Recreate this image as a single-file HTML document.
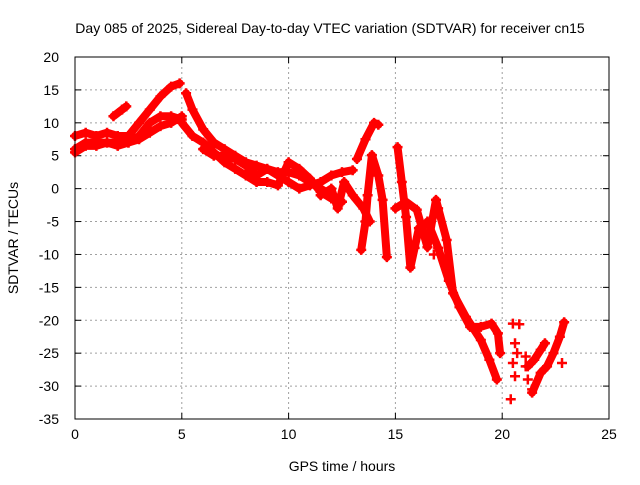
<!DOCTYPE html>
<html><head><meta charset="utf-8">
<style>
body{margin:0;background:#fff;}
svg text{font-family:"Liberation Sans",sans-serif;font-size:14px;fill:#000;}
</style></head>
<body>
<svg id="chart" width="640" height="480" xmlns="http://www.w3.org/2000/svg">
<rect width="640" height="480" fill="#fff"/>
<text x="330" y="33" text-anchor="middle">Day 085 of 2025, Sidereal Day-to-day VTEC variation (SDTVAR) for receiver cn15</text>
<text x="342" y="471" text-anchor="middle">GPS time / hours</text>
<text transform="translate(18,238) rotate(-90)" text-anchor="middle">SDTVAR / TECUs</text>
<g id="grid"></g><g id="ticks"></g><g id="marks"></g>
<rect x="75" y="57" width="534" height="362" fill="none" stroke="#000" stroke-width="1"/>
</svg>
<script>
const xTicks=[0,5,10,15,20,25];
const yTicks=[20,15,10,5,0,-5,-10,-15,-20,-25,-30,-35];
const trackA=[[0,8],[0.5,8.5],[1,8],[1.5,8.5],[2,8],[2.5,8],[3,10],[3.5,12],[4,14],[4.5,15.5],[4.9,16]];
const trackB=[[0,6],[0.5,7],[1,7],[1.5,7],[2,7],[2.5,7],[3,8],[3.5,10],[4,11],[4.5,11],[5,10.5]];
const trackC=[[0,5.5],[0.5,6.5],[1,6.5],[1.5,7],[2,6.5],[2.5,7],[3,7.5],[3.5,8.5],[4,9.5],[4.5,10],[5,11]];
const trackS=[[1.8,11],[2.2,12],[2.4,12.5]];
const trackD=[[5.2,14.5],[5.5,12],[6,9],[6.5,7],[7,6],[7.5,5],[8,4],[8.5,3.5],[9,3],[9.5,2.5],[10,2.5],[10.5,2],[11,1],[11.5,0],[12,-1],[12.5,-2]];
const trackE=[[5,10],[5.5,8],[6,7],[6.5,5.5],[7,4],[7.5,3],[8,2],[8.5,1],[9,1],[9.5,0.5],[10,4],[10.5,3],[11,1.5],[11.5,-0.5],[12,-1.5]];
const trackF=[[6,6],[6.5,5],[7,5],[7.5,4.5],[8,3.5],[8.5,2],[9,3],[9.5,2],[10,1],[10.5,0],[11,0.5],[11.5,1],[12,2],[12.5,2.5],[13,2.8]];
const trackG=[[11.5,-1],[12,0],[12.3,-3],[12.6,1],[13,-1],[13.5,-3],[13.8,-5]];
const trackH=[[13.2,4.5],[13.6,7.5],[14,10],[14.2,9.7]];
const trackI=[[13.4,-9.3],[13.6,-5],[13.7,-1],[13.9,5.1],[14.2,2],[14.4,-1.7],[14.6,-10.4]];
const trackJ=[[15.1,6.3],[15.3,1],[15.5,-4.3],[15.7,-12],[15.9,-9],[16.1,-6]];
const trackK=[[15,-3],[15.5,-2],[16,-3.2],[16.5,-8.9],[16.9,-1.7],[17.4,-7.8],[17.7,-15.9],[18.3,-19.5],[19,-23],[19.4,-26],[19.75,-29]];
const trackL=[[16.5,-5],[17,-9],[17.5,-14],[18,-18],[18.5,-21],[19,-21],[19.5,-20.5],[19.8,-22],[19.9,-25]];
const trackM=[[21.4,-31],[21.8,-28],[22.1,-27],[22.4,-25],[22.7,-22.5],[22.9,-20.3]];
const trackN=[[21.2,-27],[21.5,-26],[21.8,-24.5],[22,-23.5]];
const scatter=[[20.5,-20.5],[20.8,-20.6],[20.6,-23.5],[20.7,-25],[20.5,-26.5],[20.6,-28.5],[20.4,-32],[21.1,-25.5],[21.1,-27],[21.2,-29],[21.4,-30.5],[22.8,-26.5],[17,-3],[16.8,-10]];
const tracks=[trackA,trackB,trackC,trackS,trackD,trackE,trackF,trackG,trackH,trackI,trackJ,trackK,trackL,trackM,trackN];

const X0=75,X1=609,Y0=419,Y1=57;
function xs(t){return X0+(t-0)/(25-0)*(X1-X0);}
function ys(v){return Y0-(v-(-35))/(20-(-35))*(Y0-Y1);}
const NS="http://www.w3.org/2000/svg";
const grid=document.getElementById('grid'),ticks=document.getElementById('ticks'),marks=document.getElementById('marks');
function mk(tag,attrs,parent){const e=document.createElementNS(NS,tag);for(const k in attrs)e.setAttribute(k,attrs[k]);parent.appendChild(e);return e;}
xTicks.forEach(t=>{
  const x=xs(t);
  if(t>0&&t<25){const g=mk('line',{x1:x,x2:x,y1:Y1,y2:Y0,stroke:'#a0a0a0','stroke-dasharray':'2,3'},grid);
  
  }
  mk('line',{x1:x,x2:x,y1:Y0,y2:Y0-6,stroke:'#000'},ticks);
  mk('line',{x1:x,x2:x,y1:Y1,y2:Y1+6,stroke:'#000'},ticks);
  const tx=mk('text',{x:x,y:Y0+20,'text-anchor':'middle'},ticks);tx.textContent=t;
  
  
});
yTicks.forEach(v=>{
  const y=ys(v);
  if(v<20&&v>-35){const g=mk('line',{x1:X0,x2:X1,y1:y,y2:y,stroke:'#a0a0a0','stroke-dasharray':'2,3'},grid);
  
  }
  mk('line',{x1:X0,x2:X0+6,y1:y,y2:y,stroke:'#000'},ticks);
  mk('line',{x1:X1,x2:X1-6,y1:y,y2:y,stroke:'#000'},ticks);
  const tx=mk('text',{x:X0-16,y:y+5,'text-anchor':'end'},ticks);tx.textContent=v;
  
  
});
function plus(t,v){
  const x=xs(t),y=ys(v);
  const p=mk('path',{d:`M${x-5},${y}H${x+5}M${x},${y-5}V${y+5}`,stroke:'#f00','stroke-width':2.5},marks);
  
  
}
tracks.forEach(tr=>{
  const pl=mk('polyline',{points:tr.map(p=>xs(p[0])+','+ys(p[1])).join(' '),fill:'none',stroke:'#f00','stroke-width':8,'stroke-linejoin':'round','stroke-linecap':'round'},marks);
  
  
  tr.forEach(p=>plus(p[0],p[1]));
});
scatter.forEach(p=>plus(p[0],p[1]));
</script>
</body></html>
